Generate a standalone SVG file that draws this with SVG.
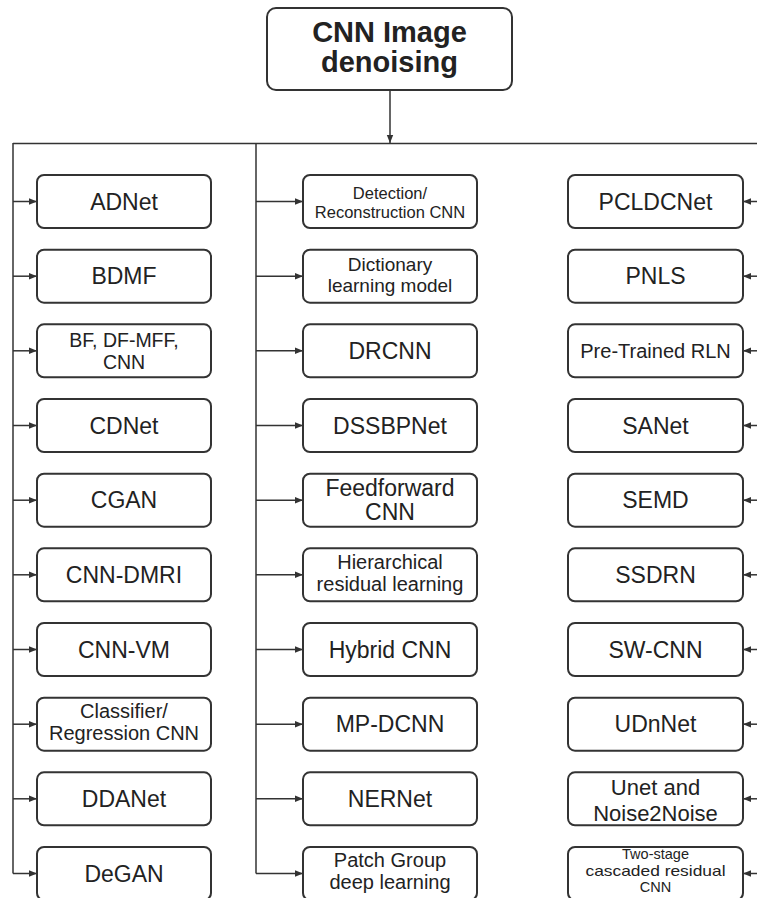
<svg xmlns="http://www.w3.org/2000/svg" width="757" height="898" viewBox="0 0 757 898">
<style>
.box{fill:#fff;stroke:#333;stroke-width:2}
.t{font-family:"Liberation Sans",Arial,sans-serif;fill:#222;text-anchor:middle}
.s{font-size:23px}
.title{font-size:29px;font-weight:bold}
.ln{fill:none;stroke:#333;stroke-width:1.5}
.ar{fill:none;stroke:#333;stroke-width:1.5;marker-end:url(#ah)}
</style>
<defs>
<marker id="ah" markerUnits="userSpaceOnUse" markerWidth="8" markerHeight="8" refX="8" refY="4" orient="auto">
<path d="M0,0.8 L8,4 L0,7.2 z" fill="#333"/>
</marker>
</defs>
<rect width="757" height="898" fill="#fff"/>

<g id="connectors">
<path class="ar" d="M390,90 V143"/>
<path class="ln" d="M13,143.5 H757"/>
<path class="ln" d="M13,143 V873.5"/>
<path class="ln" d="M256,143 V873.5"/>
<path class="ar" d="M13,201.5 H37"/>
<path class="ar" d="M13,276.2 H37"/>
<path class="ar" d="M13,350.8 H37"/>
<path class="ar" d="M13,425.5 H37"/>
<path class="ar" d="M13,500.2 H37"/>
<path class="ar" d="M13,574.8 H37"/>
<path class="ar" d="M13,649.5 H37"/>
<path class="ar" d="M13,724.2 H37"/>
<path class="ar" d="M13,798.8 H37"/>
<path class="ar" d="M13,873.5 H37"/>
<path class="ar" d="M256,201.5 H303"/>
<path class="ar" d="M256,276.2 H303"/>
<path class="ar" d="M256,350.8 H303"/>
<path class="ar" d="M256,425.5 H303"/>
<path class="ar" d="M256,500.2 H303"/>
<path class="ar" d="M256,574.8 H303"/>
<path class="ar" d="M256,649.5 H303"/>
<path class="ar" d="M256,724.2 H303"/>
<path class="ar" d="M256,798.8 H303"/>
<path class="ar" d="M256,873.5 H303"/>
<path class="ar" d="M757,201.5 H743"/>
<path class="ar" d="M757,276.2 H743"/>
<path class="ar" d="M757,350.8 H743"/>
<path class="ar" d="M757,425.5 H743"/>
<path class="ar" d="M757,500.2 H743"/>
<path class="ar" d="M757,574.8 H743"/>
<path class="ar" d="M757,649.5 H743"/>
<path class="ar" d="M757,724.2 H743"/>
<path class="ar" d="M757,798.8 H743"/>
<path class="ar" d="M757,873.5 H743"/>
</g>

<g id="root">
<rect class="box" x="267" y="8" width="245" height="82" rx="9"/>
<text class="t title" x="389.5" y="42">CNN Image</text>
<text class="t title" x="389.5" y="72">denoising</text>
</g>

<g id="adnet"><rect class="box" x="37" y="175" width="174" height="53" rx="7"/><text class="t s" x="124" y="209.5">ADNet</text></g>
<g id="bdmf"><rect class="box" x="37" y="249.7" width="174" height="53" rx="7"/><text class="t s" x="124" y="284.2">BDMF</text></g>
<g id="bf"><rect class="box" x="37" y="324.3" width="174" height="53" rx="7"/><text class="t" style="font-size:19.5px" x="124" y="347">BF, DF-MFF,</text><text class="t" style="font-size:19.5px" x="124" y="368.5">CNN</text></g>
<g id="cdnet"><rect class="box" x="37" y="399" width="174" height="53" rx="7"/><text class="t s" x="124" y="433.5">CDNet</text></g>
<g id="cgan"><rect class="box" x="37" y="473.7" width="174" height="53" rx="7"/><text class="t s" x="124" y="508.2">CGAN</text></g>
<g id="cnndmri"><rect class="box" x="37" y="548.3" width="174" height="53" rx="7"/><text class="t s" x="124" y="582.8">CNN-DMRI</text></g>
<g id="cnnvm"><rect class="box" x="37" y="623" width="174" height="53" rx="7"/><text class="t s" x="124" y="657.5">CNN-VM</text></g>
<g id="classifier"><rect class="box" x="37" y="697.7" width="174" height="53" rx="7"/><text class="t" style="font-size:20px" x="124" y="718">Classifier/</text><text class="t" style="font-size:20px" x="124" y="740">Regression CNN</text></g>
<g id="ddanet"><rect class="box" x="37" y="772.3" width="174" height="53" rx="7"/><text class="t s" x="124" y="806.8">DDANet</text></g>
<g id="degan"><rect class="box" x="37" y="847" width="174" height="53" rx="7"/><text class="t s" x="124" y="881.5">DeGAN</text></g>

<g id="detection"><rect class="box" x="303" y="175" width="174" height="53" rx="7"/><text class="t" style="font-size:16.5px" x="390" y="198.5">Detection/</text><text class="t" style="font-size:16.5px" x="390" y="218">Reconstruction CNN</text></g>
<g id="dictionary"><rect class="box" x="303" y="249.7" width="174" height="53" rx="7"/><text class="t" style="font-size:19px" x="390" y="271">Dictionary</text><text class="t" style="font-size:19px" x="390" y="292">learning model</text></g>
<g id="drcnn"><rect class="box" x="303" y="324.3" width="174" height="53" rx="7"/><text class="t s" x="390" y="358.8">DRCNN</text></g>
<g id="dssbpnet"><rect class="box" x="303" y="399" width="174" height="53" rx="7"/><text class="t s" x="390" y="433.5">DSSBPNet</text></g>
<g id="feedforward"><rect class="box" x="303" y="473.7" width="174" height="53" rx="7"/><text class="t s" x="390" y="496">Feedforward</text><text class="t s" x="390" y="520">CNN</text></g>
<g id="hierarchical"><rect class="box" x="303" y="548.3" width="174" height="53" rx="7"/><text class="t" style="font-size:20px" x="390" y="569">Hierarchical</text><text class="t" style="font-size:20px" x="390" y="591">residual learning</text></g>
<g id="hybrid"><rect class="box" x="303" y="623" width="174" height="53" rx="7"/><text class="t s" x="390" y="657.5">Hybrid CNN</text></g>
<g id="mpdcnn"><rect class="box" x="303" y="697.7" width="174" height="53" rx="7"/><text class="t s" x="390" y="732.2">MP-DCNN</text></g>
<g id="nernet"><rect class="box" x="303" y="772.3" width="174" height="53" rx="7"/><text class="t s" x="390" y="806.8">NERNet</text></g>
<g id="patchgroup"><rect class="box" x="303" y="847" width="174" height="53" rx="7"/><text class="t" style="font-size:20px" x="390" y="867">Patch Group</text><text class="t" style="font-size:20px" x="390" y="888.5">deep learning</text></g>

<g id="pcldcnet"><rect class="box" x="568" y="175" width="175" height="53" rx="7"/><text class="t s" x="655.5" y="209.5">PCLDCNet</text></g>
<g id="pnls"><rect class="box" x="568" y="249.7" width="175" height="53" rx="7"/><text class="t s" x="655.5" y="284.2">PNLS</text></g>
<g id="pretrained"><rect class="box" x="568" y="324.3" width="175" height="53" rx="7"/><text class="t" style="font-size:20px" x="655.5" y="357.5">Pre-Trained RLN</text></g>
<g id="sanet"><rect class="box" x="568" y="399" width="175" height="53" rx="7"/><text class="t s" x="655.5" y="433.5">SANet</text></g>
<g id="semd"><rect class="box" x="568" y="473.7" width="175" height="53" rx="7"/><text class="t s" x="655.5" y="508.2">SEMD</text></g>
<g id="ssdrn"><rect class="box" x="568" y="548.3" width="175" height="53" rx="7"/><text class="t s" x="655.5" y="582.8">SSDRN</text></g>
<g id="swcnn"><rect class="box" x="568" y="623" width="175" height="53" rx="7"/><text class="t s" x="655.5" y="657.5">SW-CNN</text></g>
<g id="udnnet"><rect class="box" x="568" y="697.7" width="175" height="53" rx="7"/><text class="t s" x="655.5" y="732.2">UDnNet</text></g>
<g id="unet"><rect class="box" x="568" y="772.3" width="175" height="53" rx="7"/><text class="t" style="font-size:22px" x="655.5" y="795">Unet and</text><text class="t" style="font-size:22px" x="655.5" y="820.5">Noise2Noise</text></g>
<g id="twostage"><rect class="box" x="568" y="847" width="175" height="53" rx="7"/><text class="t" style="font-size:14.5px" x="655.5" y="859">Two-stage</text><text class="t" style="font-size:14.5px" x="655.5" y="875.5" textLength="140" lengthAdjust="spacingAndGlyphs">cascaded residual</text><text class="t" style="font-size:14.5px" x="655.5" y="892">CNN</text></g>
</svg>
